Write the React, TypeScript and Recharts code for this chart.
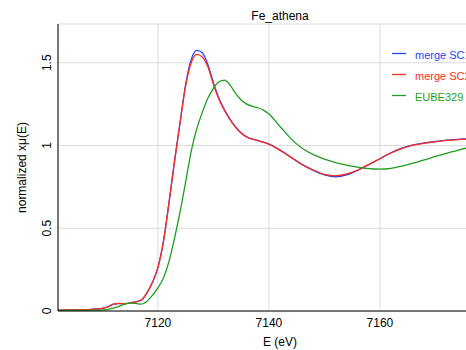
import { LineChart, Line, XAxis, YAxis, CartesianGrid, Legend, Label } from 'recharts';

// energy grid (eV) and normalized mu(E) for each scan
const energy = [
  7102, 7104, 7106, 7108, 7110,
  7111, 7112, 7113, 7114, 7115, 7116, 7117, 7118, 7119, 7120,
  7121, 7122, 7123, 7124, 7125, 7126, 7127, 7128, 7129, 7130,
  7131, 7132, 7133, 7134, 7135, 7136, 7137, 7138, 7139, 7140,
  7142, 7144, 7146, 7148, 7150, 7152, 7154, 7156, 7158, 7160,
  7162, 7164, 7166, 7168, 7170, 7172, 7174, 7176, 7178, 7180, 7182,
];

const mergeSc1 = [
  0.005, 0.006, 0.008, 0.01, 0.016,
  0.025, 0.041, 0.045, 0.044, 0.049, 0.055, 0.066, 0.108, 0.172, 0.262,
  0.42, 0.655, 0.905, 1.14, 1.37, 1.52, 1.575, 1.56, 1.49, 1.38,
  1.285, 1.215, 1.158, 1.112, 1.076, 1.052, 1.039, 1.03, 1.02, 1.008,
  0.972, 0.928, 0.884, 0.85, 0.823, 0.811, 0.822, 0.85, 0.884, 0.92,
  0.956, 0.984, 1.003, 1.015, 1.024, 1.032, 1.037, 1.04, 1.043, 1.045, 1.046,
];

const mergeSc2 = [
  0.005, 0.006, 0.008, 0.01, 0.016,
  0.025, 0.042, 0.046, 0.044, 0.049, 0.055, 0.066, 0.108, 0.172, 0.262,
  0.42, 0.655, 0.905, 1.14, 1.36, 1.5, 1.55, 1.535, 1.475, 1.37,
  1.28, 1.212, 1.156, 1.11, 1.075, 1.051, 1.038, 1.03, 1.02, 1.008,
  0.972, 0.928, 0.885, 0.852, 0.826, 0.817, 0.828, 0.852, 0.885, 0.92,
  0.955, 0.983, 1.002, 1.014, 1.023, 1.031, 1.036, 1.039, 1.042, 1.044, 1.045,
];

const eube329 = [
  0.002, 0.003, 0.004, 0.005, 0.007,
  0.01, 0.018, 0.028, 0.041, 0.047, 0.046, 0.041, 0.058, 0.094, 0.14,
  0.2, 0.3, 0.44, 0.6, 0.78, 0.965, 1.1, 1.2, 1.285, 1.345,
  1.385, 1.395, 1.365, 1.315, 1.275, 1.25, 1.236, 1.228, 1.214, 1.19,
  1.115, 1.04, 0.983, 0.945, 0.918, 0.897, 0.882, 0.869, 0.86, 0.857,
  0.862, 0.876, 0.893, 0.913, 0.934, 0.953, 0.97, 0.987, 1.0, 1.01, 1.02,
];

const xMajor = [7120, 7140, 7160];
const xMinor = [7110, 7120, 7130, 7140, 7150, 7160, 7170, 7180];
const yMajor = [0, 0.5, 1, 1.5];
const yMinor = [0, 0.1, 0.2, 0.3, 0.4, 0.5, 0.6, 0.7, 0.8, 0.9, 1, 1.1, 1.2, 1.3, 1.4, 1.5, 1.6, 1.7];

const seriesOrder = ['sc1', 'sc2', 'eube'];

const X_DOMAIN = [7102, 7182];
const Y_DOMAIN = [0, 1.734];

const data = energy.map((e, i) => ({
  e,
  sc1: mergeSc1[i],
  sc2: mergeSc2[i],
  eube: eube329[i],
}));

const FONT = '"Liberation Sans", Arial, sans-serif';

// y tick labels are drawn rotated, like the original plot
const YTick = (props: any) => {
  const { x, y, payload } = props;
  return (
    <text
      x={x}
      y={y}
      dy="0.35em"
      textAnchor="middle"
      fill="#000"
      fontSize={12}
      transform={`rotate(-90, ${x}, ${y})`}
    >
      {String(payload.value)}
    </text>
  );
};

const renderLegend = (props: any) => {
  const { payload } = props;
  return (
    <div>
      {payload.map((entry: any) => (
        <svg key={entry.value} width={120} height={21} style={{ display: 'block', overflow: 'visible' }}>
          <line x1={0} y1={10.5} x2={14} y2={10.5} stroke={entry.color} strokeWidth={1.3} />
          <text x={23} y={16} fill={entry.color} fontSize={11} fontFamily={FONT}>
            {entry.value}
          </text>
        </svg>
      ))}
    </div>
  );
};

export default function App() {
  return (
    <div style={{ position: 'absolute', left: 0, top: 0, width: 466, height: 350, overflow: 'hidden', fontFamily: FONT, fontSize: 12, background: '#fff' }}>
      <LineChart width={520} height={350} data={data} margin={{ top: 24, right: 18, bottom: 0, left: 0 }}>
        <CartesianGrid stroke="#dcdcdc" strokeWidth={1} />

        <XAxis
          dataKey="e"
          type="number"
          domain={X_DOMAIN}
          allowDataOverflow
          ticks={xMajor}
          interval={0}
          height={39}
          tickLine={false}
          tickSize={0}
          tickMargin={7}
          stroke="#000"
          tick={{ fill: '#000', fontSize: 12 }}
        />
        <XAxis xAxisId="bottomMinor" dataKey="e" type="number" domain={X_DOMAIN} allowDataOverflow orientation="bottom" mirror height={0} ticks={xMinor} interval={0} tick={false} tickSize={5} axisLine={false} stroke="#000" />
        <XAxis xAxisId="topMinor" dataKey="e" type="number" domain={X_DOMAIN} allowDataOverflow orientation="top" mirror height={0} ticks={xMinor} interval={0} tick={false} tickSize={5} stroke="#000" />

        <YAxis
          type="number"
          domain={Y_DOMAIN}
          allowDataOverflow
          ticks={yMajor}
          interval={0}
          width={58}
          tickLine={false}
          tickSize={0}
          tickMargin={11}
          stroke="#000"
          tick={YTick}
        >
          <Label value="normalized xμ(E)" angle={-90} position="insideLeft" offset={22} fill="#000" fontSize={12} style={{ textAnchor: 'middle' }} />
        </YAxis>
        <YAxis yAxisId="leftMinor" type="number" domain={Y_DOMAIN} allowDataOverflow orientation="left" mirror width={0} ticks={yMinor} interval={0} tick={false} tickSize={5} axisLine={false} stroke="#000" />
        <YAxis yAxisId="rightMinor" type="number" domain={Y_DOMAIN} allowDataOverflow orientation="right" mirror width={0} ticks={yMinor} interval={0} tick={false} tickSize={5} stroke="#000" />

        <Line type="monotone" dataKey="sc1" name="merge SC1" stroke="#2244ff" strokeWidth={1.3} dot={false} isAnimationActive={false} />
        <Line type="monotone" dataKey="sc2" name="merge SC2" stroke="#ff2a1a" strokeWidth={1.3} dot={false} isAnimationActive={false} />
        <Line type="monotone" dataKey="eube" name="EUBE329" stroke="#1e9e1e" strokeWidth={1.3} dot={false} isAnimationActive={false} />

        <Legend
          layout="vertical"
          align="center"
          verticalAlign="middle"
          content={renderLegend}
          itemSorter={(item: any) => seriesOrder.indexOf(item.dataKey)}
          wrapperStyle={{ left: 392, top: 43, width: 120 }}
        />

        <text x={280} y={20} textAnchor="middle" fill="#000" fontSize={12} fontFamily={FONT}>
          Fe_athena
        </text>
        <text x={280} y={346} textAnchor="middle" fill="#000" fontSize={12} fontFamily={FONT}>
          E (eV)
        </text>
      </LineChart>
    </div>
  );
}
